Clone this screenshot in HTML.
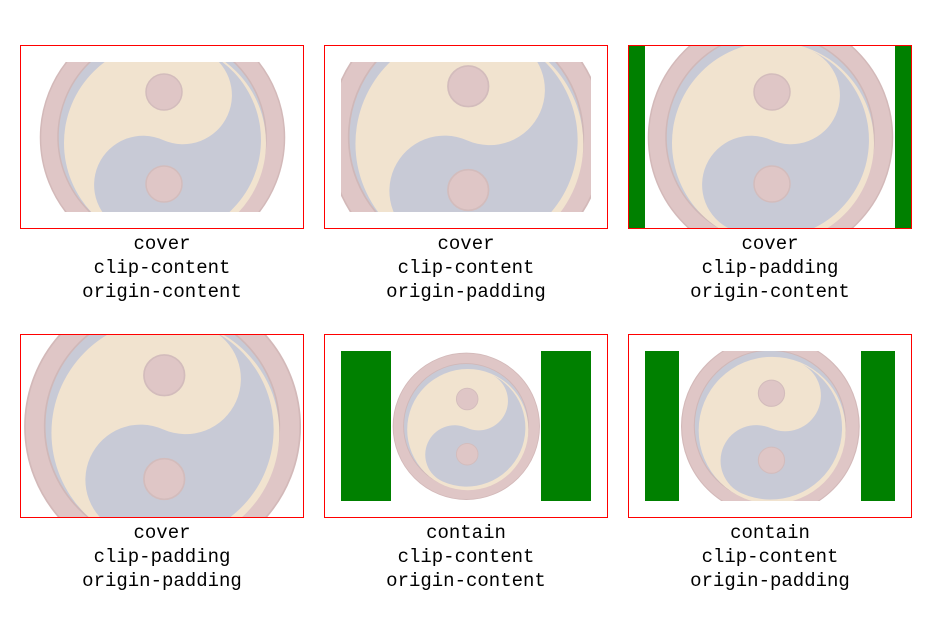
<!DOCTYPE html>
<html><head><meta charset="utf-8">
<style>
html,body{margin:0;padding:0;background:#fff;width:937px;height:617px;overflow:hidden;position:relative}
.box{position:absolute;width:282px;height:182px;border:1px solid #f00;box-sizing:content-box}
.lbl{position:absolute;width:284px;text-align:center;font-family:"Liberation Mono",monospace;font-size:19px;line-height:24px;color:#000}
svg{position:absolute;left:0;top:0}
</style></head>
<body>
<svg width="937" height="617">
<defs>
<symbol id="yy" viewBox="0 0 250 250">
<rect x="0" y="0" width="250" height="250" fill="#fff"/>
<circle cx="125.5" cy="125.5" r="122" fill="#dfc6c6" stroke="#d3b9b9" stroke-width="1.5"/>
<circle cx="125" cy="125" r="104" fill="#c8cad6" stroke="#d0b8b8" stroke-width="1.5"/>
<circle cx="128" cy="131" r="101" fill="#f1e3cf"/>
<path transform="rotate(24 126 128)" d="M126,30 A98,98 0 0 1 126,226 A49,49 0 0 1 126,128 A49,49 0 0 0 126,30 Z" fill="#c8cad6"/>
<circle cx="127" cy="80" r="18" fill="#dfc6c6" stroke="#d3bcbc" stroke-width="1.5"/>
<circle cx="127" cy="172" r="18" fill="#dfc6c6" stroke="#d3bcbc" stroke-width="1.5"/>
</symbol>
<clipPath id="c1"><rect x="37" y="62" width="250" height="150"/></clipPath>
<clipPath id="c2"><rect x="341" y="62" width="250" height="150"/></clipPath>
<clipPath id="c3"><rect x="629" y="46" width="282" height="182"/></clipPath>
<clipPath id="c4"><rect x="21" y="335" width="282" height="182"/></clipPath>
<clipPath id="c5"><rect x="341" y="351" width="250" height="150"/></clipPath>
<clipPath id="c6"><rect x="645" y="351" width="250" height="150"/></clipPath>
</defs>
<g clip-path="url(#c1)"><use href="#yy" x="37" y="12" width="250" height="250"/></g>
<g clip-path="url(#c2)"><use href="#yy" x="325" y="-4" width="282" height="282"/></g>
<g clip-path="url(#c3)"><rect x="629" y="46" width="282" height="182" fill="#008000"/><use href="#yy" x="645" y="12" width="250" height="250"/></g>
<g clip-path="url(#c4)"><rect x="21" y="335" width="282" height="182" fill="#008000"/><use href="#yy" x="21" y="285" width="282" height="282"/></g>
<g clip-path="url(#c5)"><rect x="341" y="351" width="250" height="150" fill="#008000"/><use href="#yy" x="391" y="351" width="150" height="150"/></g>
<g clip-path="url(#c6)"><rect x="645" y="351" width="250" height="150" fill="#008000"/><use href="#yy" x="679" y="335" width="182" height="182"/></g>
</svg>
<div class="box" style="left:20px;top:45px"></div>
<div class="box" style="left:324px;top:45px"></div>
<div class="box" style="left:628px;top:45px"></div>
<div class="box" style="left:20px;top:334px"></div>
<div class="box" style="left:324px;top:334px"></div>
<div class="box" style="left:628px;top:334px"></div>
<div class="lbl" style="left:20px;top:232px">cover<br>clip-content<br>origin-content</div>
<div class="lbl" style="left:324px;top:232px">cover<br>clip-content<br>origin-padding</div>
<div class="lbl" style="left:628px;top:232px">cover<br>clip-padding<br>origin-content</div>
<div class="lbl" style="left:20px;top:521px">cover<br>clip-padding<br>origin-padding</div>
<div class="lbl" style="left:324px;top:521px">contain<br>clip-content<br>origin-content</div>
<div class="lbl" style="left:628px;top:521px">contain<br>clip-content<br>origin-padding</div>
</body></html>
